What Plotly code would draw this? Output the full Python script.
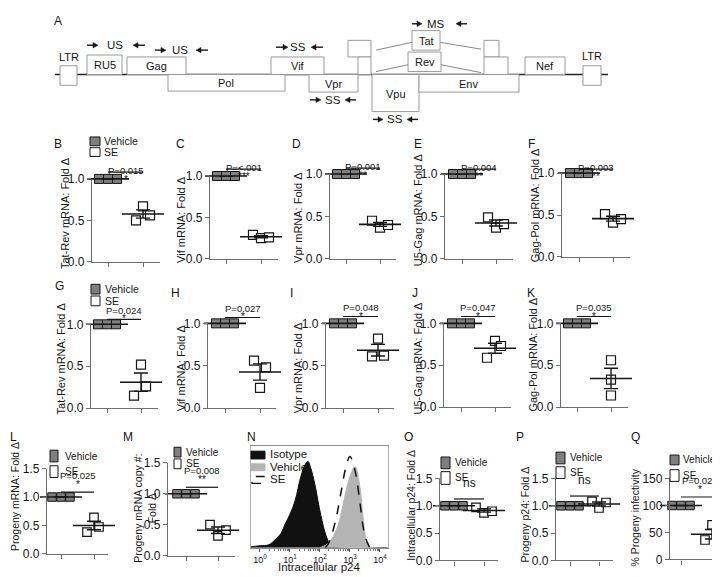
import numpy as np
import plotly.graph_objects as go

W, H = 720, 577
FONT = "Liberation Sans, Arial, Helvetica, sans-serif"
INK = "#161616"
AXIS = "#6e6e6e"
BOXLINE = "#9a9a9a"
VEH_FILL = "#7f7f7f"

# ---------------- data ----------------
groups = ["Vehicle", "SE"]
group_pos = [0, 1]

vehicle_fold = [1.0, 1.0, 1.0]
vehicle_pct = [100.0, 100.0, 100.0]

se_B = [0.50, 0.67, 0.56]
se_C = [0.29, 0.25, 0.26]
se_D = [0.45, 0.37, 0.40]
se_E = [0.49, 0.37, 0.41]
se_F = [0.51, 0.41, 0.45]
se_G = [0.52, 0.15, 0.26]
se_H = [0.56, 0.48, 0.24]
se_I = [0.82, 0.61, 0.62]
se_J = [0.79, 0.73, 0.59]
se_K = [0.56, 0.33, 0.14]
se_L = [0.38, 0.64, 0.47]
se_M = [0.50, 0.32, 0.41]
se_O = [0.97, 0.87, 0.90]
se_P = [1.08, 0.96, 1.06]
se_Q = [64, 36, 40]

dot_panels = ["B", "C", "D", "E", "F", "G", "H", "I", "J", "K", "L", "M", "O", "P", "Q"]
se_series = [se_B, se_C, se_D, se_E, se_F, se_G, se_H, se_I, se_J, se_K, se_L, se_M, se_O, se_P, se_Q]
p_texts = ["P=0.015", "P=<.001", "P=0.001", "P=0.004", "P=0.003",
           "P=0.024", "P=0.027", "P=0.048", "P=0.047", "P=0.035",
           "P=0.025", "P=0.008", "ns", "ns", "P=0.027"]
star_texts = ["*", "***", "**", "**", "**", "*", "*", "*", "*", "*", "*", "**", "", "", "*"]
y_titles = ["Tat-Rev mRNA: Fold Δ", "Vif mRNA: Fold Δ", "Vpr mRNA: Fold Δ", "U5-Gag mRNA: Fold Δ", "Gag-Pol mRNA: Fold Δ",
            "Tat-Rev mRNA: Fold Δ", "Vif mRNA: Fold Δ", "Vpr mRNA: Fold Δ", "U5-Gag mRNA: Fold Δ", "Gag-Pol mRNA: Fold Δ",
            "Progeny mRNA: Fold Δ", "Progeny mRNA copy #:<br>Fold Δ", "Intracellular p24: Fold Δ",
            "Progeny p24: Fold Δ", "% Progeny infectivity"]
fold_ticks_short = [0, 0.5, 1.0]
fold_ticks_long = [0, 0.5, 1.0, 1.5]
pct_ticks = [0, 50, 100, 150]

# flow histogram (panel N): fluorescence value vs. % of max
iso_x = [0.5, 1, 2, 3.2, 5, 6.8, 10, 15, 23, 32, 40, 50, 67, 107, 160, 234, 350, 18000]
iso_y = [1, 2, 3, 8, 14, 23, 33, 47, 70, 82, 85, 78, 63, 32, 12, 2, 0, 0]
veh_hist_x = [100, 200, 400, 680, 1000, 1480, 2150, 2700, 3700, 5000]
veh_hist_y = [0, 5, 22, 51, 70, 80, 60, 32, 5, 0]
se_hist_x = [150, 200, 340, 500, 740, 1000, 1480, 2150, 2700, 3400, 4600]
se_hist_y = [0, 5, 28, 54, 80, 90, 76, 45, 22, 9, 0]
hist_tickvals = [1, 10, 100, 1000, 10000]
hist_ticktext = ["10<sup>0</sup>", "10<sup>1</sup>", "10<sup>2</sup>", "10<sup>3</sup>", "10<sup>4</sup>"]
hist_legend = ["Isotype", "Vehicle", "SE"]

# genome map (panel A)
gene_names = ["RU5", "Gag", "Pol", "Vif", "Vpr", "Tat", "Rev", "Vpu", "Env", "Nef"]
primer_names = ["US", "US", "SS", "SS", "MS", "SS"]

# ---------------- layout geometry (pixels) ----------------
geom = {
    "B": dict(xl=84, xr=152, t0=100, t1=135, ytop=168, ybot=253),
    "C": dict(xl=202, xr=270, t0=218, t1=253, ytop=165, ybot=250),
    "D": dict(xl=322, xr=388, t0=338, t1=372, ytop=163, ybot=250),
    "E": dict(xl=437, xr=505, t0=454, t1=488, ytop=163, ybot=250),
    "F": dict(xl=554, xr=622, t0=571, t1=605, ytop=162, ybot=248),
    "G": dict(xl=83, xr=150, t0=99, t1=133, ytop=317, ybot=403),
    "H": dict(xl=200, xr=268, t0=217, t1=252, ytop=316, ybot=403),
    "I": dict(xl=318, xr=386, t0=335, t1=370, ytop=316, ybot=403),
    "J": dict(xl=436, xr=503, t0=453, t1=487, ytop=316, ybot=402),
    "K": dict(xl=553, xr=620, t0=569, t1=603, ytop=316, ybot=402),
    "L": dict(xl=39, xr=100, t0=53, t1=86, ytop=465, ybot=552),
    "M": dict(xl=160, xr=227, t0=178, t1=210, ytop=459, ybot=554),
    "O": dict(xl=432, xr=490, t0=446, t1=476, ytop=475, ybot=559),
    "P": dict(xl=548, xr=605, t0=562, t1=591, ytop=475, ybot=559),
    "Q": dict(xl=662, xr=717, t0=673, t1=704, ytop=475, ybot=558),
}
se_offsets = {
    "B": [-7, 0, 7], "C": [-8, 0, 8], "D": [-8, 0, 8], "E": [-8, 0, 8], "F": [-8, 0, 8],
    "G": [0, -7, 5], "H": [-6, 6, 0], "I": [0, -6, 6], "J": [0, 6, -8], "K": [0, 0, 0],
    "L": [-7, 0, 5], "M": [-8, 0, 8], "O": [-8, 0, 8], "P": [-7, 0, 7], "Q": [0, -7, 7],
}
sig_y = {"B": 161, "C": 158, "D": 157, "E": 158, "F": 158, "G": 312, "H": 310, "I": 309, "J": 309,
         "K": 309, "L": 489, "M": 484, "O": 496, "P": 493, "Q": 494}
sig_x1 = {"Q": 1.25}
letter_pos = {"A": (50, 6), "B": (50, 132), "C": (172, 132), "D": (288, 132), "E": (410, 132), "F": (523, 132),
              "G": (52, 278), "H": (167, 285), "I": (283, 285), "J": (407, 285), "K": (523, 285),
              "L": (5, 433), "M": (120, 433), "N": (243, 433), "O": (400, 433), "P": (512, 433), "Q": (627, 433)}
title_pos = {"B": (57, 203), "C": (173, 210), "D": (290, 208), "E": (410, 200), "F": (527, 195),
             "G": (53, 352), "H": (173, 362), "I": (290, 362), "J": (410, 352), "K": (525, 348),
             "L": (7, 494), "M": (137, 506), "O": (403, 503), "P": (517, 512), "Q": (627, 515)}
legend_geo = {
    "B": (82, 92, (125, 134), (136, 145), 94, 10.5),
    "G": (83, 92, (276, 286), (288, 298), 95, 10.5),
    "L": (42, 50, (446, 458), (462, 474), 55, 10),
    "M": (166, 173, (443, 453), (455, 465), 176, 10),
    "O": (433, 442, (453, 465), (468, 481), 445, 10),
    "P": (548, 557, (448, 460), (463, 475), 560, 10),
    "Q": (662, 671, (451, 461), (466, 478), 673, 10),
}

shapes, annots, axes = [], [], {}


def PX(x):
    return x / W


def PY(y):
    return 1 - y / H


def text(x, y, s, size, xanchor="center", yanchor="middle", angle=0, color=INK):
    annots.append(dict(x=PX(x), y=PY(y), xref="paper", yref="paper", text=s, showarrow=False,
                       font=dict(family=FONT, size=size, color=color), xanchor=xanchor,
                       yanchor=yanchor, textangle=angle))


def rect(x0, x1, y0, y1, fill, line, width=1.0, dash=None):
    shapes.append(dict(type="rect", xref="paper", yref="paper", x0=PX(x0), x1=PX(x1),
                       y0=PY(y1), y1=PY(y0), fillcolor=fill,
                       line=dict(color=line, width=width, dash=dash)))


def seg(x0, y0, x1, y1, color, width=1.0):
    shapes.append(dict(type="line", xref="paper", yref="paper", x0=PX(x0), y0=PY(y0),
                       x1=PX(x1), y1=PY(y1), line=dict(color=color, width=width)))


def arrow(tail, head, y):
    # short horizontal primer arrow with a filled head
    d = 1 if head > tail else -1
    seg(tail, y, head - d * 3, y, "#1a1a1a", 1.4)
    path = (f"M {PX(head)},{PY(y)} L {PX(head - d * 5)},{PY(y - 2.8)} "
            f"L {PX(head - d * 5)},{PY(y + 2.8)} Z")
    shapes.append(dict(type="path", xref="paper", yref="paper", path=path,
                       fillcolor="#1a1a1a", line=dict(color="#1a1a1a", width=0.5)))


fig = go.Figure()

# ---------------- panel A: genome map ----------------
seg(47, 61, 600, 61, "#222222", 1.6)
gene_boxes = {"RU5": (79, 114, 41, 61), "Gag": (119, 178, 43, 61), "Pol": (160, 277, 61, 78),
              "Vif": (263, 316, 43, 61), "Vpr": (301, 350, 61, 79), "Tat": (404, 432, 16, 36),
              "Rev": (400, 433, 38, 58), "Vpu": (364, 411, 61, 99), "Env": (411, 511, 61, 79),
              "Nef": (517, 557, 43, 61)}
plain_boxes = [(52, 69, 52, 72), (575, 593, 52, 72), (340, 363, 26, 43), (350, 363, 43, 61),
               (476, 491, 26, 43), (476, 500, 43, 61)]
for b in plain_boxes:
    rect(*b, fill="white", line=BOXLINE)
for name in gene_names:
    x0, x1, y0, y1 = gene_boxes[name]
    rect(x0, x1, y0, y1, fill="white", line=BOXLINE)
    text((x0 + x1) / 2, (y0 + y1) / 2 + 0.5, name, 11)
for (a, b, c, d) in [(368, 36, 404, 28), (368, 58, 400, 51), (432, 28, 473, 35), (433, 51, 473, 59)]:
    seg(a, b, c, d, "#8a8a8a", 1)
text(61, 43, "LTR", 11)
text(584, 42, "LTR", 11)
primer_geo = [((79, 90), 107, (137, 125), 31), ((147, 158), 172, (200, 188), 36),
              ((268, 280), 290, (315, 303), 33), ((302, 313), 325, (348, 337), 87),
              ((404, 414), 428, (459, 448), 9), ((365, 375), 387, (410, 399), 107)]
for name, (fw, xt, rv, yy) in zip(primer_names, primer_geo):
    arrow(fw[0], fw[1], yy)
    text(xt, yy, name, 11.5)
    arrow(rv[0], rv[1], yy)

# ---------------- dot plots ----------------
for i, p in enumerate(dot_panels):
    k = i + 1
    g = geom[p]
    xa = "xaxis" if k == 1 else f"xaxis{k}"
    ya = "yaxis" if k == 1 else f"yaxis{k}"
    xr = "x" if k == 1 else f"x{k}"
    yr = "y" if k == 1 else f"y{k}"
    unit = g["t1"] - g["t0"]
    row3 = p in ("L", "M", "O", "P", "Q")
    if p == "Q":
        ticks = pct_ticks
        tick_text = [str(t) for t in ticks]
        veh = vehicle_pct
    else:
        ticks = fold_ticks_long if row3 else fold_ticks_short
        tick_text = [f"{t:.1f}" for t in ticks]
        veh = vehicle_fold
    ymax = ticks[-1]
    axes[xa] = dict(domain=[PX(g["xl"]), PX(g["xr"])],
                    range=[(g["xl"] - g["t0"]) / unit, (g["xr"] - g["t0"]) / unit],
                    anchor=yr, tickvals=group_pos, showticklabels=False, ticks="outside",
                    ticklen=4, tickwidth=1.2, tickcolor=AXIS, showline=True, linecolor=AXIS,
                    linewidth=1.3, showgrid=False, zeroline=False, fixedrange=True)
    axes[ya] = dict(domain=[PY(g["ybot"]), PY(g["ytop"])], range=[0, ymax], anchor=xr,
                    tickvals=ticks, ticktext=tick_text, ticks="outside", ticklen=4, tickwidth=1.2,
                    tickcolor=AXIS, showline=True, linecolor=AXIS, linewidth=1.3, showgrid=False,
                    zeroline=False, fixedrange=True,
                    tickfont=dict(family=FONT, size=12, color=INK))
    msize = 8.5 if row3 else 9
    se = se_series[i]
    fig.add_trace(go.Scatter(x=[group_pos[0] + o / unit for o in (-9, 0, 9)], y=veh,
                             xaxis=xr, yaxis=yr, mode="markers", cliponaxis=False,
                             marker=dict(symbol="square", size=msize, color=VEH_FILL,
                                         line=dict(color=INK, width=1)),
                             showlegend=False, hoverinfo="skip"))
    fig.add_trace(go.Scatter(x=[group_pos[1] + o / unit for o in se_offsets[p]], y=se,
                             xaxis=xr, yaxis=yr, mode="markers", cliponaxis=False,
                             marker=dict(symbol="square", size=msize, color="white",
                                         line=dict(color=INK, width=1.2)),
                             showlegend=False, hoverinfo="skip"))
    means = [float(np.mean(veh)), float(np.mean(se))]
    sems = [float(np.std(veh, ddof=1) / np.sqrt(len(veh))), float(np.std(se, ddof=1) / np.sqrt(len(se)))]
    fig.add_trace(go.Scatter(x=group_pos, y=means, xaxis=xr, yaxis=yr, mode="markers",
                             cliponaxis=False,
                             marker=dict(symbol="line-ew", size=30, color=INK,
                                         line=dict(color=INK, width=1.6)),
                             error_y=dict(type="data", array=sems, visible=True, color=INK,
                                          thickness=1.4, width=7),
                             showlegend=False, hoverinfo="skip"))
    # significance bar
    x1 = sig_x1.get(p, 1.0)
    sy = sig_y[p]
    shapes.append(dict(type="line", xref=xr, yref="paper", x0=0, x1=x1, y0=PY(sy), y1=PY(sy),
                       line=dict(color=INK, width=1.2)))
    if p_texts[i] == "ns":
        annots.append(dict(xref=xr, yref="paper", x=x1 / 2, y=PY(sy - 7), text="ns", showarrow=False,
                           font=dict(family=FONT, size=12, color=INK)))
    else:
        annots.append(dict(xref=xr, yref="paper", x=x1 / 2, y=PY(sy - 9), text=p_texts[i],
                           showarrow=False, font=dict(family=FONT, size=9.5, color=INK)))
        annots.append(dict(xref=xr, yref="paper", x=x1 / 2, y=PY(sy - 0.5), text=star_texts[i],
                           showarrow=False, font=dict(family=FONT, size=10, color=INK)))
    tx, ty = title_pos[p]
    text(tx, ty, y_titles[i], 10.5 if row3 else 11, angle=-90)

# legends
for p, (x0, x1, yv, ys, tx, fs) in legend_geo.items():
    rect(x0, x1, yv[0], yv[1], VEH_FILL, INK, 1)
    rect(x0, x1, ys[0], ys[1], "white", INK, 1)
    text(tx, (yv[0] + yv[1]) / 2, groups[0], fs, xanchor="left")
    text(tx, (ys[0] + ys[1]) / 2, groups[1], fs, xanchor="left")

# ---------------- panel N: histogram ----------------
kN = len(dot_panels) + 1
xN, yN = f"x{kN}", f"y{kN}"
axes[f"xaxis{kN}"] = dict(domain=[PX(243), PX(380)], type="log", range=[-0.3, 4.27], anchor=yN,
                          tickvals=hist_tickvals, ticktext=hist_ticktext, ticks="outside", ticklen=3,
                          tickcolor="#555", showline=True, mirror=True, linecolor="#8c8c8c",
                          linewidth=1.2, showgrid=False, zeroline=False, fixedrange=True,
                          tickfont=dict(family=FONT, size=9, color=INK),
                          minor=dict(ticks="outside", ticklen=2, tickcolor="#777",
                                     tickvals=[m * d for d in (1, 10, 100, 1000) for m in range(2, 10)]))
axes[f"yaxis{kN}"] = dict(domain=[PY(546), PY(442)], range=[0, 100], anchor=xN, showticklabels=False,
                          ticks="", showline=True, mirror=True, linecolor="#b0b0b0", linewidth=1.2,
                          showgrid=False, zeroline=False, fixedrange=True)
fig.add_trace(go.Scatter(x=iso_x, y=iso_y, xaxis=xN, yaxis=yN, mode="lines", fill="tozeroy",
                         line=dict(color="#111111", width=1, shape="spline"), fillcolor="#111111",
                         showlegend=False, hoverinfo="skip"))
fig.add_trace(go.Scatter(x=veh_hist_x, y=veh_hist_y, xaxis=xN, yaxis=yN, mode="lines", fill="tozeroy",
                         line=dict(color="#b4b4b4", width=1, shape="spline"), fillcolor="#b4b4b4",
                         showlegend=False, hoverinfo="skip"))
fig.add_trace(go.Scatter(x=se_hist_x, y=se_hist_y, xaxis=xN, yaxis=yN, mode="lines",
                         line=dict(color="#111111", width=1.5, dash="dash", shape="spline"),
                         showlegend=False, hoverinfo="skip"))
rect(243, 257, 447, 455, "#111111", "#111111", 1)
rect(243, 257, 460, 467, "#b4b4b4", "#b4b4b4", 1)
rect(244, 256, 473, 480, "rgba(0,0,0,0)", "#111111", 1.3, dash="dash")
for lab, yy in zip(hist_legend, (450, 463, 476)):
    text(260, yy, lab, 11.5, xanchor="left")
text(311, 566, "Intracellular p24", 11.5)

# panel letters
for L, (x, y) in letter_pos.items():
    text(x, y, L, 12)

fig.update_layout(width=W, height=H, margin=dict(l=0, r=0, t=0, b=0), paper_bgcolor="white",
                  plot_bgcolor="white", showlegend=False, shapes=shapes, annotations=annots,
                  font=dict(family=FONT, color=INK), **axes)
fig.write_html("out.html")
